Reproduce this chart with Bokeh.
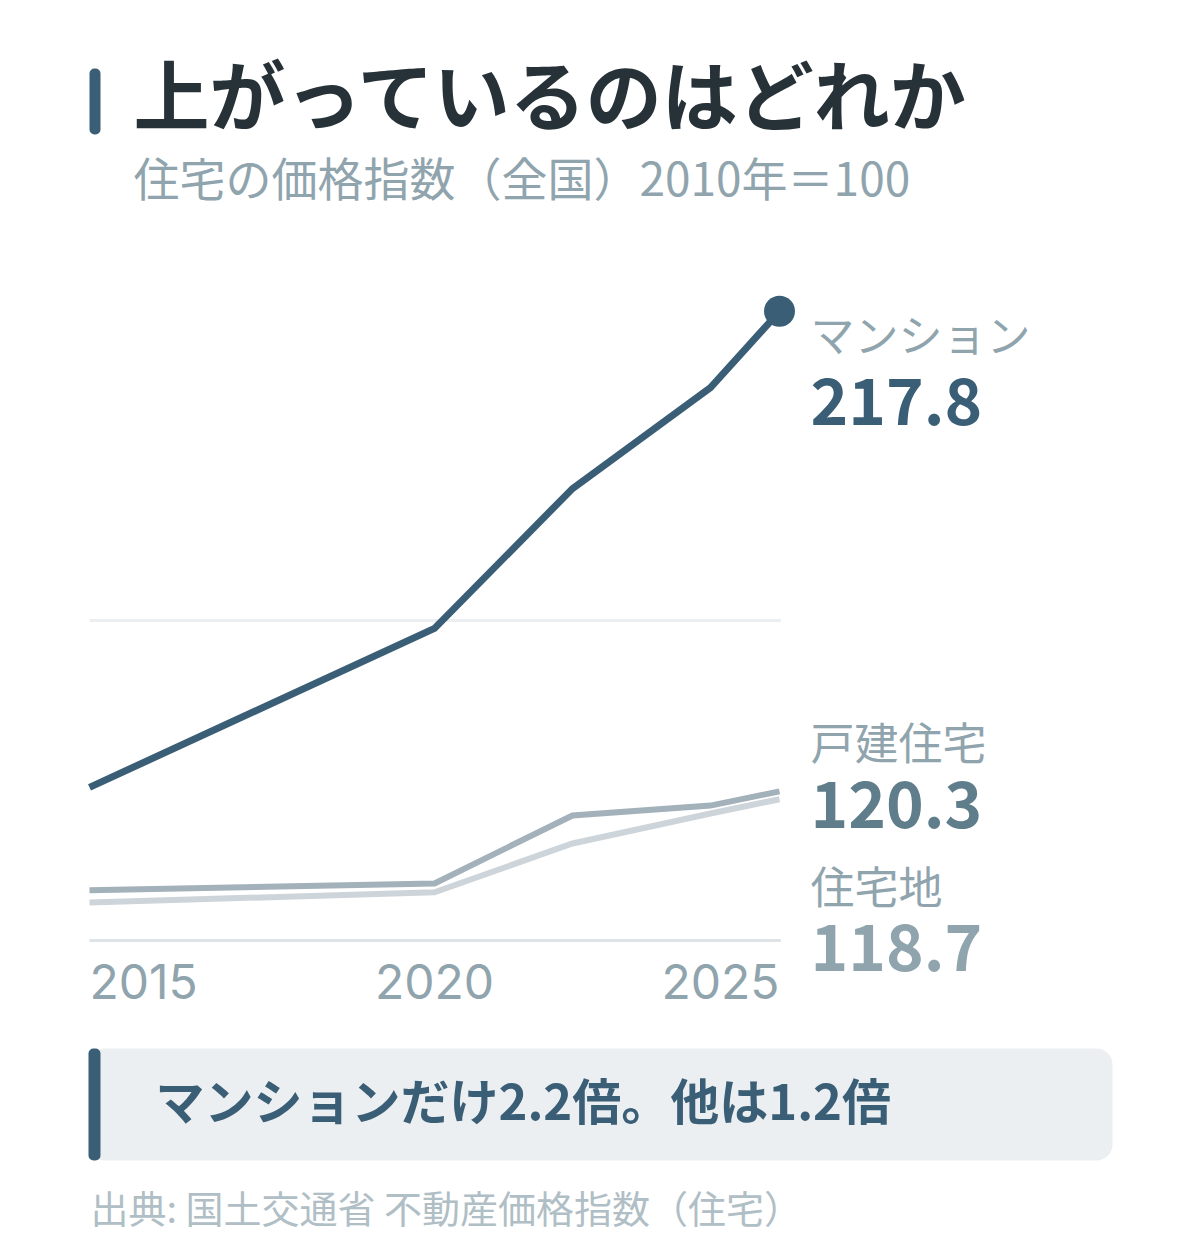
from bokeh.plotting import figure
from bokeh.models import Range1d
from bokeh.core.properties import value
from bokeh.embed import file_html
from bokeh.resources import INLINE

# ---------------- data ----------------
years = [2015, 2020, 2022, 2024, 2025]
mansion = [121.1, 153.4, 181.8, 202.3, 217.8]
detached = [100.2, 101.6, 115.4, 117.4, 120.3]
land = [97.7, 99.8, 109.7, 115.8, 118.7]

series_names = ["マンション", "戸建住宅", "住宅地"]
latest_labels = ["217.8", "120.3", "118.7"]

tick_years = [2015, 2020, 2025]
tick_labels = ["2015", "2020", "2025"]
grid_values = [90, 155]

title_text = "上がっているのはどれか"
subtitle_text = "住宅の価格指数（全国）2010年＝100"
callout_text = "マンションだけ2.2倍。他は1.2倍"
source_text = "出典: 国土交通省 不動産価格指数（住宅）"

# ---------------- layout / style ----------------
W, H = 1184, 1244
OFF = 0
X0_PX, X1_PX = 89, 779      # px of x-domain ends
Y0_PX, Y1_PX = 940, 300     # px of y-domain ends
XMIN, XMAX = 2015, 2025
VMIN, VMAX = 90, 220

sx = (X1_PX - X0_PX) / (XMAX - XMIN)
sy = (Y0_PX - Y1_PX) / (VMAX - VMIN)


def dx(px):
    return XMIN + (px - X0_PX) / sx


def dy(py):
    return VMIN + (Y0_PX - py) / sy


JP = value("Noto Sans CJK JP")
NUM = value("Inter")
C_MANSION = "#3b5e77"
C_DETACHED = "#a3b1bb"
C_LAND = "#cdd5db"
C_TITLE = "#263238"
C_SUB = "#90a4ae"
C_SRC = "#b0bec5"

p = figure(width=W, height=H,
           x_range=Range1d(dx(OFF), dx(OFF + W)),
           y_range=Range1d(dy(OFF + H), dy(OFF)),
           x_axis_location=None, y_axis_location=None,
           min_border=0, toolbar_location=None, output_backend="svg",
           outline_line_color=None, background_fill_color="white",
           border_fill_color="white")
p.grid.visible = False

# gridlines
p.segment(x0=[XMIN] * len(grid_values), x1=[XMAX + 0.02] * len(grid_values),
          y0=grid_values, y1=grid_values,
          line_color=["#dde3e7", "#eceff1"], line_width=3)

# series lines
p.line(years, land, line_color=C_LAND, line_width=6, line_join="miter")
p.line(years, detached, line_color=C_DETACHED, line_width=6, line_join="miter")
p.line(years, mansion, line_color=C_MANSION, line_width=7, line_join="miter")
p.scatter([years[-1]], [mansion[-1]], size=31, fill_color=C_MANSION,
          line_color=None)

# x tick labels
p.text(x=tick_years, y=[dy(981)] * 3, text=tick_labels,
       text_align=["left", "center", "right"], text_baseline="middle",
       text_font=NUM, text_font_size="48px", text_color=C_SUB)

# end labels
lx = dx(810)
p.text(x=[lx] * 3, y=[dy(332), dy(740), dy(884)], text=series_names,
       text_align="left", text_baseline="middle", text_font=JP,
       text_font_size="44px", text_color=C_SUB)
p.text(x=[lx] * 3, y=[dy(401), dy(804), dy(947)], text=latest_labels,
       text_align="left", text_baseline="middle", text_font=JP,
       text_font_size="64px", text_font_style="bold",
       text_color=[C_MANSION, "#607d8b", C_SUB])

# title block
p.quad(left=[dx(89)], right=[dx(100)], top=[dy(68)], bottom=[dy(134)],
       fill_color=C_MANSION, line_color=None, border_radius=5)
p.text(x=[dx(133)], y=[dy(91)], text=[title_text], text_align="left",
       text_baseline="middle", text_font=JP, text_font_size="76px",
       text_font_style="bold", text_color=C_TITLE)
p.text(x=[dx(133)], y=[dy(175)], text=[subtitle_text], text_align="left",
       text_baseline="middle", text_font=JP, text_font_size="46px",
       text_color=C_SUB)

# callout
p.quad(left=[dx(89)], right=[dx(1112)], top=[dy(1048)], bottom=[dy(1160)],
       fill_color="#eceff1", line_color=None, border_radius=16)
p.quad(left=[dx(88)], right=[dx(100)], top=[dy(1048)], bottom=[dy(1160)],
       fill_color=C_MANSION, line_color=None, border_radius=5)
p.text(x=[dx(155)], y=[dy(1098)], text=[callout_text], text_align="left",
       text_baseline="middle", text_font=JP, text_font_size="49px",
       text_font_style="bold", text_color=C_MANSION)

# source
p.text(x=[dx(90)], y=[dy(1206)], text=[source_text], text_align="left",
       text_baseline="middle", text_font=JP, text_font_size="38px",
       text_color=C_SRC)

open("out.html", "w").write(file_html(p, INLINE))
